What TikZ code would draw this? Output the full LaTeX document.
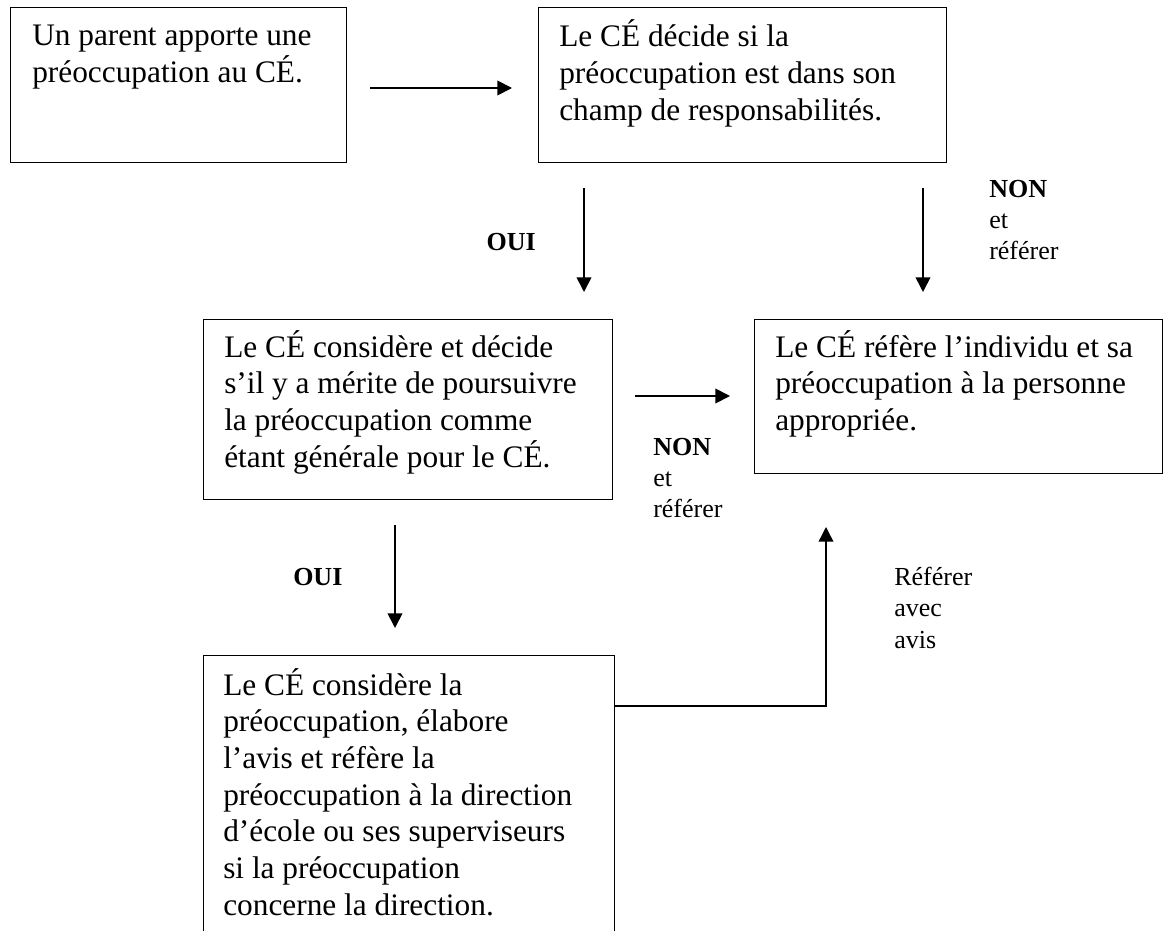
\documentclass[tikz,border=0pt]{standalone}
\usepackage{fontspec}
\setmainfont{Liberation Serif}
\usetikzlibrary{arrows.meta}
\newcommand\mainfs{\fontsize{23.5pt}{27.5pt}\selectfont}
\newcommand\smallfs{\fontsize{19.5pt}{22.8pt}\selectfont}
\newcommand\txt[1]{\parbox[t]{380pt}{\mainfs\raggedright #1}}
\newcommand\lbl[1]{\parbox[t]{100pt}{\smallfs\raggedright #1}}
\begin{document}
\begin{tikzpicture}[x=0.75pt,y=-0.75pt,
  boxst/.style={draw, line width=1.1pt, inner sep=0pt, anchor=north west},
  txtst/.style={anchor=base west, inner sep=0pt},
  arr/.style={line width=1.3pt, -{Triangle[length=11pt,width=11pt]}},
  lnk/.style={line width=1.1pt, -{Triangle[length=11pt,width=11pt]}}]
\useasboundingbox (0,0) rectangle (1163,931);
\clip (0,0) rectangle (1163,931);
% boxes
\node[boxst, minimum width={336*0.75pt}, minimum height={155*0.75pt}] (b1) at (10,7) {};
\node[boxst, minimum width={408*0.75pt}, minimum height={155*0.75pt}] (b2) at (538,7) {};
\node[boxst, minimum width={409*0.75pt}, minimum height={180*0.75pt}] (b3) at (203,319) {};
\node[boxst, minimum width={408*0.75pt}, minimum height={154*0.75pt}] (b4) at (754,319) {};
\node[boxst, minimum width={411*0.75pt}, minimum height={320*0.75pt}] (b5) at (203,655) {};
% texts
\node[txtst] (t1) at (32,46) {\txt{Un parent apporte une\\préoccupation au CÉ.}};
\node[txtst] (t2) at (559,47) {\txt{Le CÉ décide si la\\préoccupation est dans son\\champ de responsabilités.}};
\node[txtst] (t3) at (224,357) {\txt{Le CÉ considère et décide\\s’il y a mérite de poursuivre\\la préoccupation comme\\étant générale pour le CÉ.}};
\node[txtst] (t4) at (775,357) {\txt{Le CÉ réfère l’individu et sa\\préoccupation à la personne\\appropriée.}};
\node[txtst] (t5) at (223,695) {\txt{Le CÉ considère la\\préoccupation, élabore\\l’avis et réfère la\\préoccupation à la direction\\d’école ou ses superviseurs\\si la préoccupation\\concerne la direction.}};
% labels
\node[anchor=base east, inner sep=0pt] (l1) at (536,250) {\smallfs\bfseries OUI};
\node[txtst] (l2) at (989,197) {\lbl{\bfseries NON\\[1pt]\mdseries et\\référer}};
\node[txtst] (l3) at (653,455) {\lbl{\bfseries NON\\[1pt]\mdseries et\\référer}};
\node[anchor=base west, inner sep=0pt] (l4) at (293,585) {\smallfs\bfseries OUI};
\node[txtst] (l5) at (894,585) {\lbl{Référer\\[1pt]avec\\[1pt]avis}};
% connector end points
\coordinate (a1s) at (370,88); \coordinate (a1e) at (512,88);
\coordinate (a2s) at (584,188); \coordinate (a2e) at (584,292);
\coordinate (a3s) at (923,188); \coordinate (a3e) at (923,292);
\coordinate (a4s) at (635,396); \coordinate (a4e) at (730,396);
\coordinate (a5s) at (395,525); \coordinate (a5e) at (395,628);
\coordinate (k2) at (826,706); \coordinate (k3) at (826,527);
% connectors
\draw[arr] (a1s) -- (a1e);
\draw[arr] (a2s) -- (a2e);
\draw[arr] (a3s) -- (a3e);
\draw[arr] (a4s) -- (a4e);
\draw[arr] (a5s) -- (a5e);
\draw[lnk] (b5.east |- k2) -- (k2) -- (k3);
\end{tikzpicture}
\end{document}
